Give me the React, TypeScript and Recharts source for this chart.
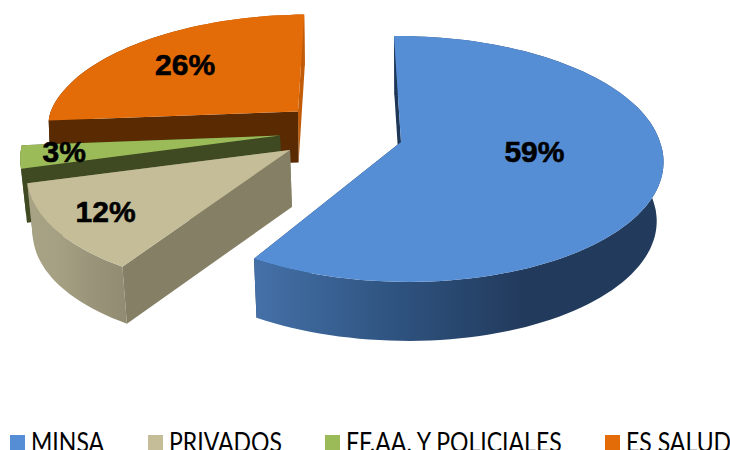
import { Cell, Legend, Pie, PieChart } from "recharts";

const categories = ["MINSA", "PRIVADOS", "FF.AA. Y POLICIALES", "ES SALUD"];
const shares = [59, 12, 3, 26];
const fills = ["#558ed5", "#c4bd97", "#9bbb59", "#e36c09"];

// slices are painted back to front, so the pie runs counter-clockwise from the last one
const paintOrder = [3, 2, 1, 0];

// how each slice sits in the fake 3D view, in legend order
const apexes = [
  [401, 142],
  [290, 150],
  [280, 135.5],
  [298, 111.5],
];
const xScales = [1, 0.995, 0.985, 0.955];
const yScales = [1, 1, 1, 0.915];
const skewsBack = [-3, 0, 0, 10];
const skewsFront = [-7, 18, 14, 0];
const depths = [59, 57, 54, 51];
const rimInsetLeft = [0.985, 0.985, 0.985, 0.995];
const rimInsetRight = [0.972, 0.985, 0.985, 0.995];
const labelRadii = [0.52, 0.85, 0.83, 0.65];
const labelNudges = [
  [0, -7],
  [13, -5],
  [-1, -1.5],
  [-5, -2],
];
const firstEdgeColors = ["#1f3757", "#857f65", "#3f4a22", "#c25c08"];
const lastEdgeColors = ["#1f3757", "#857f65", "#3f4a22", "#5a2b03"];
const rimColors = [
  ["#4571a8", "#2f5481", "#223a5c", "#223a5c"],
  ["#a9a386", "#a5a083", "#9a957a", "#928d72"],
  ["#4d5d2a", "#4d5d2a", "#4d5d2a", "#4d5d2a"],
  ["#5a2b03", "#5a2b03", "#c25c08", "#c25c08"],
];
const legendX = [10, 148, 325, 605];

const RX = 259;
const RY = 120.6;
const PERSPECTIVE = 0.138;
const RAD = Math.PI / 180;

function project(i: number, angle: number, r = 1): [number, number] {
  const u = Math.cos(angle * RAD) * r;
  const v = Math.sin(angle * RAD) * r;
  const w = 1 + PERSPECTIVE * v;
  const skew = v > 0 ? skewsBack[i] : skewsFront[i];
  return [
    apexes[i][0] + (xScales[i] * RX * u) / w + skew * v,
    apexes[i][1] - (yScales[i] * RY * v) / w,
  ];
}

// the lower rim draws in very slightly, as it does in the original's perspective
function lower(i: number, p: [number, number]): [number, number] {
  const inset = p[0] > 420 ? rimInsetRight[i] : rimInsetLeft[i];
  return [420 + (p[0] - 420) * inset, p[1] + depths[i]];
}

const toPath = (pts: [number, number][]) =>
  pts.map((p, k) => `${k ? "L" : "M"}${p[0].toFixed(1)} ${p[1].toFixed(1)}`).join(" ") + " Z";

function Slice3D(props: any) {
  const i = paintOrder[props.index];
  const lo = Math.min(props.startAngle, props.endAngle);
  const hi = Math.max(props.startAngle, props.endAngle);
  const arc: [number, number][] = [];
  const steps = Math.ceil((hi - lo) / 2);
  for (let k = 0; k <= steps; k++) arc.push(project(i, lo + ((hi - lo) * k) / steps));
  const apex = apexes[i] as [number, number];
  const first = arc[0];
  const last = arc[arc.length - 1];
  const xs = arc.map((p) => p[0]);
  const gid = `rim-${i}`;
  return (
    <g>
      <defs>
        <linearGradient id={gid} gradientUnits="userSpaceOnUse" x1={Math.min(...xs)} x2={Math.max(...xs)} y1={0} y2={0}>
          {rimColors[i].map((c, k) => (
            <stop key={k} offset={k / (rimColors[i].length - 1)} stopColor={c} />
          ))}
        </linearGradient>
      </defs>
      <path d={toPath([apex, first, lower(i, first), lower(i, apex)])} fill={firstEdgeColors[i]} />
      <path d={toPath([...arc, ...arc.map((p) => lower(i, p)).reverse()])} fill={`url(#${gid})`} />
      <path d={toPath([apex, last, lower(i, last), lower(i, apex)])} fill={lastEdgeColors[i]} />
      <path d={toPath([apex, ...arc])} fill={fills[i]} />
    </g>
  );
}

function sliceLabel(props: any) {
  const i = paintOrder[props.index];
  const [x, y] = project(i, props.midAngle, labelRadii[i]);
  return (
    <text
      x={x + labelNudges[i][0]}
      y={y + labelNudges[i][1]}
      textAnchor="middle"
      dominantBaseline="central"
      fontFamily="Liberation Sans"
      fontWeight="bold"
      fontSize={30}
      fill="#000"
      stroke="#000"
      strokeWidth={0.6}
    >
      {shares[i]}%
    </text>
  );
}

function LegendRow({ payload }: any) {
  const rows = [...(payload ?? [])].sort((a, b) => categories.indexOf(a.value) - categories.indexOf(b.value));
  return (
    <div style={{ position: "relative", width: 730, height: 30 }}>
      {rows.map((entry: any, k: number) => (
        <div key={entry.value}>
          <div style={{ position: "absolute", left: legendX[k], top: 15, width: 15, height: 15, background: entry.color }} />
          <div
            style={{
              position: "absolute",
              left: legendX[k] + 21,
              top: 7,
              fontFamily: "Lato",
              fontSize: 26,
              lineHeight: "30px",
              whiteSpace: "nowrap",
              color: "#000",
              transform: "scaleX(0.885)",
              transformOrigin: "left center",
            }}
          >
            {entry.value}
          </div>
        </div>
      ))}
    </div>
  );
}

const pieData = paintOrder.map((i) => ({ name: categories[i], value: shares[i], fill: fills[i] }));

export default function App() {
  return (
    <div style={{ position: "absolute", left: 0, top: 0, width: 730, height: 450, overflow: "hidden", background: "#fff" }}>
      <PieChart width={730} height={450} margin={{ top: 0, right: 0, bottom: 0, left: 0 }}>
        <Pie
          data={pieData}
          dataKey="value"
          nameKey="name"
          cx={365}
          cy={180}
          outerRadius={100}
          startAngle={91}
          endAngle={451}
          stroke="none"
          isAnimationActive={false}
          shape={Slice3D}
          label={sliceLabel}
          labelLine={false}
        >
          {pieData.map((d) => (
            <Cell key={d.name} fill={d.fill} />
          ))}
        </Pie>
        <Legend
          content={LegendRow}
          wrapperStyle={{ position: "absolute", left: 0, top: 420, width: 730, bottom: "auto" }}
        />
      </PieChart>
    </div>
  );
}
